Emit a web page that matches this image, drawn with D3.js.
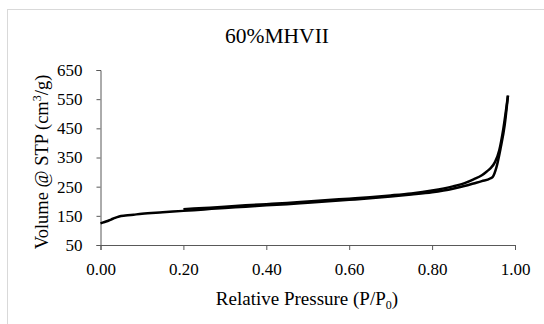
<!DOCTYPE html>
<html>
<head>
<meta charset="utf-8">
<script src="https://cdn.jsdelivr.net/npm/d3@7"></script>
<style>
  body { margin: 0; background: #fff; }
  text { font-family: "Liberation Serif", serif; fill: #000; }
</style>
</head>
<body>
<div id="chart"></div>
<script>
// isotherm data
var adsP = [0.00, 0.01, 0.02, 0.03, 0.045, 0.06, 0.08, 0.10, 0.15, 0.20, 0.25, 0.30, 0.35, 0.40, 0.45, 0.50, 0.55, 0.60, 0.65, 0.70, 0.75, 0.80, 0.85, 0.88, 0.90, 0.92, 0.94, 0.947, 0.955, 0.965, 0.975, 0.983];
var adsV = [124, 129, 134, 140, 148, 151, 154, 157, 162, 167, 172, 177, 181, 186, 190, 195, 200, 205, 210, 216, 223, 231, 243, 253, 261, 269, 278, 285, 315, 380, 460, 562];
var desP = [0.20, 0.25, 0.30, 0.35, 0.40, 0.45, 0.50, 0.55, 0.60, 0.65, 0.70, 0.75, 0.80, 0.85, 0.88, 0.90, 0.92, 0.932, 0.94, 0.952, 0.962, 0.972, 0.983];
var desV = [173, 177, 181, 186, 190, 194, 199, 204, 209, 214, 220, 227, 237, 251, 263, 275, 289, 302, 312, 335, 375, 450, 562];
var xTicks = [0, 0.2, 0.4, 0.6, 0.8, 1.0];
var yTicks = [50, 150, 250, 350, 450, 550, 650];

var width = 544, height = 324;
var margin = {top: 70, right: 29, bottom: 79, left: 100.5};

var svg = d3.select("#chart").append("svg")
    .attr("width", width)
    .attr("height", height);

// light frame of the chart area
svg.append("rect")
    .attr("x", 7.5).attr("y", 9.5)
    .attr("width", 560).attr("height", 330)
    .attr("fill", "none")
    .attr("stroke", "#d9d9d9");

var x = d3.scaleLinear().domain([0, 1]).range([margin.left, width - margin.right]);
var y = d3.scaleLinear().domain([50, 650]).range([height - margin.bottom, margin.top]);

var xAxis = svg.append("g")
    .attr("transform", "translate(0," + y(50) + ")")
    .call(d3.axisBottom(x).tickValues(xTicks).tickSize(5).tickPadding(13).tickFormat(d3.format(".2f")));
var yAxis = svg.append("g")
    .attr("transform", "translate(" + x(0) + ",0)")
    .call(d3.axisLeft(y).tickValues(yTicks).tickSize(4).tickPadding(14));

[xAxis, yAxis].forEach(function(a) {
  a.attr("font-family", null).attr("font-size", null);
  a.select(".domain").attr("stroke", "#595959").attr("stroke-width", 1);
  a.selectAll(".tick line").attr("stroke", "#595959");
  a.selectAll(".tick text")
      .style("font-family", "'Liberation Serif', serif")
      .style("font-size", "17px")
      .attr("fill", "#000");
});

var line = d3.line()
    .x(function(d) { return x(d[0]); })
    .y(function(d) { return y(d[1]); })
    .curve(d3.curveMonotoneX);

var ads = adsP.map(function(p, i) { return [p, adsV[i]]; });
var des = desP.map(function(p, i) { return [p, desV[i]]; });

[ads, des].forEach(function(s) {
  svg.append("path")
      .datum(s)
      .attr("d", line)
      .attr("fill", "none")
      .attr("stroke", "#000")
      .attr("stroke-width", 2.5)
      .attr("stroke-linejoin", "round");
});

// title
svg.append("text")
    .attr("x", 277).attr("y", 43)
    .attr("text-anchor", "middle")
    .style("font-size", "21.5px")
    .text("60%MHVII");

// x label
var xl = svg.append("text")
    .attr("x", 307).attr("y", 305)
    .attr("text-anchor", "middle")
    .style("font-size", "19px");
xl.append("tspan").text("Relative Pressure (P/P");
xl.append("tspan").style("font-size", "12px").attr("dy", 4).text("0");
xl.append("tspan").attr("dy", -4).text(")");

// y label
var yl = svg.append("text")
    .attr("transform", "translate(48,162) rotate(-90)")
    .attr("text-anchor", "middle")
    .style("font-size", "18.5px");
yl.append("tspan").text("Volume @ STP (cm");
yl.append("tspan").style("font-size", "12px").attr("dy", -7).text("3");
yl.append("tspan").attr("dy", 7).text("/g)");
</script>
</body>
</html>
